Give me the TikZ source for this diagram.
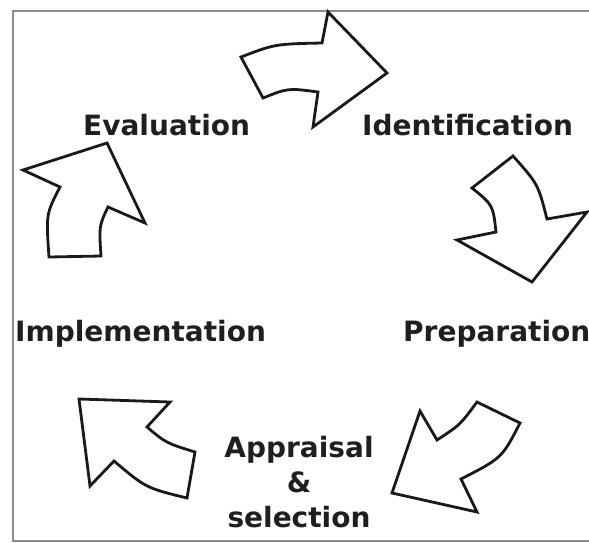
\documentclass[tikz,border=0pt]{standalone}
\usepackage{fontspec}
\setmainfont{DejaVu Sans}
\begin{document}
\begin{tikzpicture}[x=1pt,y=-1pt,
  arrowshape/.style={draw=black!90,line width=2.8pt,fill=white,line join=miter},
  framerule/.style={draw=black!45,line width=1.5pt},
  lbl/.style={inner sep=0pt,text=black!88,font=\fontsize{28}{35}\selectfont\bfseries},
  lblc/.style={lbl,align=center}]
\useasboundingbox (0,0) rectangle (589,542);
% frame
\draw[framerule] (589,11) -- (13,11) -- (13,541) -- (589,541);
% arrow: Evaluation -> Identification
\draw[arrowshape] (241,57) .. controls (275,44) .. (322,43) -- (328,12) -- (387,73)
  -- (313,127) -- (318,92) .. controls (288,88) .. (263,98) -- cycle;
% arrow: Identification -> Preparation
\draw[arrowshape] (513,156) -- (472,188) .. controls (493,205) .. (496,232) -- (457,240)
  -- (532,282) -- (587,212) -- (547,219) .. controls (538,184) .. cycle;
% arrow: Preparation -> Appraisal
\draw[arrowshape] (477,402) -- (520,423) .. controls (502,458) .. (461,479) -- (477,512)
  -- (392,493) -- (420,411) -- (437,440) .. controls (460,425) .. cycle;
% arrow: Appraisal -> Implementation
\draw[arrowshape] (79,399) -- (170,402) -- (147,427) .. controls (166,443) .. (195,452)
  -- (187,498) .. controls (146,488) .. (114,461) -- (90,486) -- cycle;
% arrow: Implementation -> Evaluation
\draw[arrowshape] (23,170) -- (107,143) -- (145,223) -- (108,207)
  .. controls (99,226) .. (101,256) -- (49,257) .. controls (46,214) .. (60,187) -- cycle;
% labels
\node[lbl,anchor=base west] (eval) at (83,135) {Evaluation};
\node[lbl,anchor=base west] (ident) at (362,135) {Identification};
\node[lbl,anchor=base west] (prep) at (403,341) {Preparation};
\node[lbl,anchor=base west] (impl) at (15,341) {Implementation};
\node[lblc,anchor=base] (appr) at (299,527) {Appraisal\\\&\\selection};
\end{tikzpicture}
\end{document}
